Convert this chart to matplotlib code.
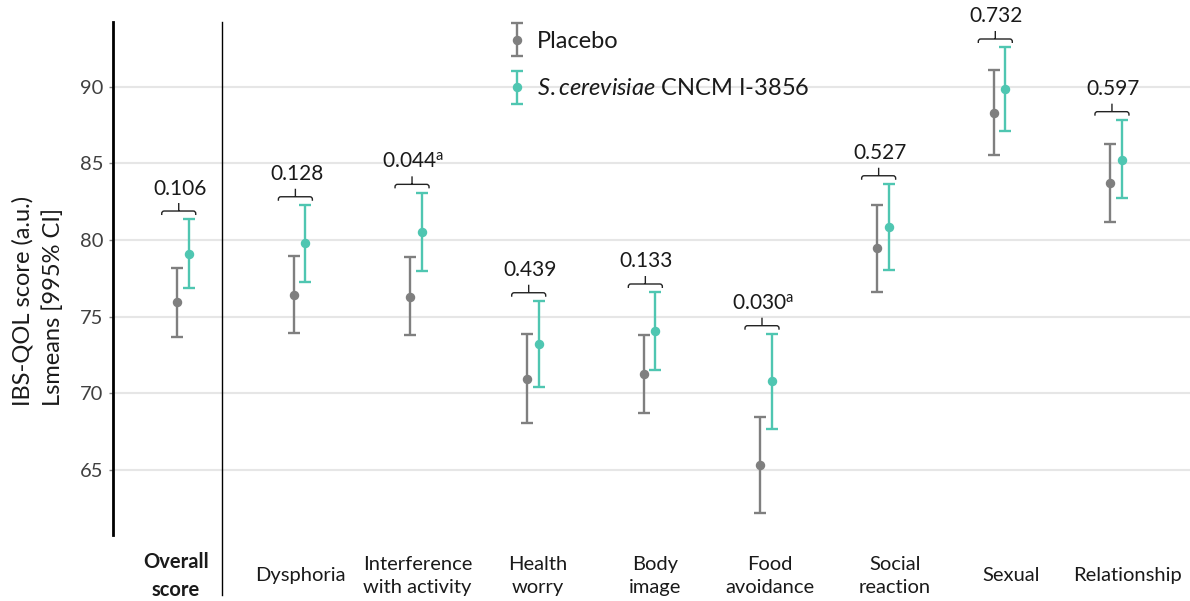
import numpy as np
import matplotlib
matplotlib.use("Agg")
import matplotlib.pyplot as plt
from matplotlib.path import Path
from matplotlib.patches import PathPatch
from matplotlib.legend_handler import HandlerErrorbar
from matplotlib.container import ErrorbarContainer
import matplotlib.transforms as mtransforms

# ---------------- data ----------------
categories = ["Overall\nscore", "Dysphoria", "Interference\nwith activity", "Health\nworry",
              "Body\nimage", "Food\navoidance", "Social\nreaction", "Sexual", "Relationship"]
placebo_mean = [75.96, 76.41, 76.30, 70.96, 71.27, 65.32, 79.46, 88.30, 83.72]
placebo_lo   = [73.70, 73.91, 73.80, 68.08, 68.70, 62.21, 76.63, 85.52, 81.15]
placebo_hi   = [78.20, 78.96, 78.87, 73.85, 73.82, 68.43, 82.28, 91.07, 86.26]
treat_mean   = [79.09, 79.78, 80.54, 73.20, 74.04, 70.78, 80.85, 89.83, 85.24]
treat_lo     = [76.89, 77.26, 78.00, 70.40, 71.52, 67.69, 78.06, 87.09, 82.72]
treat_hi     = [81.35, 82.28, 83.09, 76.02, 76.59, 73.87, 83.65, 92.57, 87.83]
p_values = ["0.106", "0.128", "0.044", "0.439", "0.133", "0.030", "0.527", "0.732", "0.597"]
p_flags  = ["", "", "a", "", "", "a", "", "", ""]
yticks = [65, 70, 75, 80, 85, 90]
series_names = ["Placebo", r"$\mathit{S.cerevisiae}$ CNCM I-3856"]
ylabel = "IBS-QOL score (a.u.)\nLsmeans [995% CI]"

# ---------------- style ----------------
plt.rcParams['font.family'] = ['Lato', 'DejaVu Sans']
plt.rcParams['mathtext.fontset'] = 'custom'
plt.rcParams['mathtext.rm'] = 'Lato'
plt.rcParams['mathtext.it'] = 'Lato:italic'
plt.rcParams['mathtext.bf'] = 'Lato:bold'

GRAY = '#7f7f7f'
TEAL = '#4fc6b1'
W, H = 1190, 601

fig = plt.figure(figsize=(W / 100, H / 100), dpi=100)
ax = fig.add_axes([112.7 / W, 66 / H, 1 - 112.7 / W, 513 / H])

x = np.arange(len(categories))
off = 0.05

pm = np.array(placebo_mean); tm = np.array(treat_mean)
eb1 = ax.errorbar(x - off, pm, yerr=[pm - np.array(placebo_lo), np.array(placebo_hi) - pm],
                  fmt='o', color=GRAY, ms=5.8, elinewidth=1.7, capsize=4.3, capthick=1.7,
                  label=series_names[0], zorder=3)
eb2 = ax.errorbar(x + off, tm, yerr=[tm - np.array(treat_lo), np.array(treat_hi) - tm],
                  fmt='o', color=TEAL, ms=5.8, elinewidth=1.7, capsize=4.3, capthick=1.7,
                  label=series_names[1], zorder=3)

ax.set_xlim(-0.601, 8.634)
ax.set_ylim(60.76, 94.22)
ax.set_yticks(yticks)
ax.yaxis.grid(True, color='#e6e6e6', lw=1.5)
ax.set_axisbelow(True)

for s in ['top', 'right', 'bottom']:
    ax.spines[s].set_visible(False)
ax.spines['left'].set_linewidth(2.0)
ax.spines['left'].set_color('black')

ax.tick_params(axis='y', length=3, width=1, color='#888888', labelsize=14.5,
               labelcolor='#404040', pad=3.5)

# category labels (slight nudges to match reference placement)
label_nudge = [-0.06, 0.004, 0.012, 0.044, 0.052, 0.033, 0.104, 0.099, 0.094]
ax.set_xticks(x + np.array(label_nudge))
ax.set_xticklabels(categories)
ax.tick_params(axis='x', length=0, pad=29.5, labelsize=14.5, labelcolor='#1a1a1a')
for i, lab in enumerate(ax.get_xticklabels()):
    lab.set_va('center')
    lab.set_linespacing(1.45)
    if i == 0:
        lab.set_fontweight('bold')

# separator line between overall score and domains
blend = mtransforms.blended_transform_factory(ax.transData, ax.transAxes)
ax.plot([0.333, 0.333], [1.0, -0.117], transform=blend, color='black', lw=1.0, clip_on=False)

# brackets with p-values
px_x = 116.65   # pixels per x unit
px_y = 513 / (94.22 - 60.76)
hw = 17 / px_x
drop = 4 / px_y
rise = 8 / px_y
rx, ry = 2.5 / px_x, 2.5 / px_y
for i in range(len(categories)):
    top = max(placebo_hi[i], treat_hi[i])
    yb = top + 8.3 / px_y
    xc = x[i] - 0.035
    verts = [(xc - hw, yb - drop), (xc - hw, yb - ry), (xc - hw, yb), (xc - hw + rx, yb),
             (xc + hw - rx, yb), (xc + hw, yb), (xc + hw, yb - ry), (xc + hw, yb - drop),
             (xc, yb), (xc, yb + rise)]
    codes = [Path.MOVETO, Path.LINETO, Path.CURVE3, Path.CURVE3,
             Path.LINETO, Path.CURVE3, Path.CURVE3, Path.LINETO,
             Path.MOVETO, Path.LINETO]
    ax.add_patch(PathPatch(Path(verts, codes), fill=False, ec='#222222', lw=1.0, zorder=4))
    txt = p_values[i] + (r"$^{\mathrm{%s}}$" % p_flags[i] if p_flags[i] else "")
    ax.text(xc + 0.01, yb + 16.5 / px_y, txt, ha='center', va='baseline',
            fontsize=15, color='#1a1a1a')

# y label
fig.text(38 / W, 1 - 301 / H, ylabel, rotation=90, ha='center', va='center',
         multialignment='left', fontsize=17, linespacing=1.55, color='#1a1a1a')

# legend
leg = fig.legend(handles=[eb1, eb2], labels=series_names, loc='upper left',
                 bbox_to_anchor=(505.5 / W, 1 - 31 / H), frameon=False,
                 fontsize=17, handlelength=1.0, handletextpad=0.32, labelspacing=1.12,
                 borderpad=0, borderaxespad=0, numpoints=1,
                 handler_map={ErrorbarContainer: HandlerErrorbar(xerr_size=0.7, yerr_size=0.7)})
for t in leg.get_texts():
    t.set_color('#1a1a1a')

fig.savefig('out.png', dpi=100)
